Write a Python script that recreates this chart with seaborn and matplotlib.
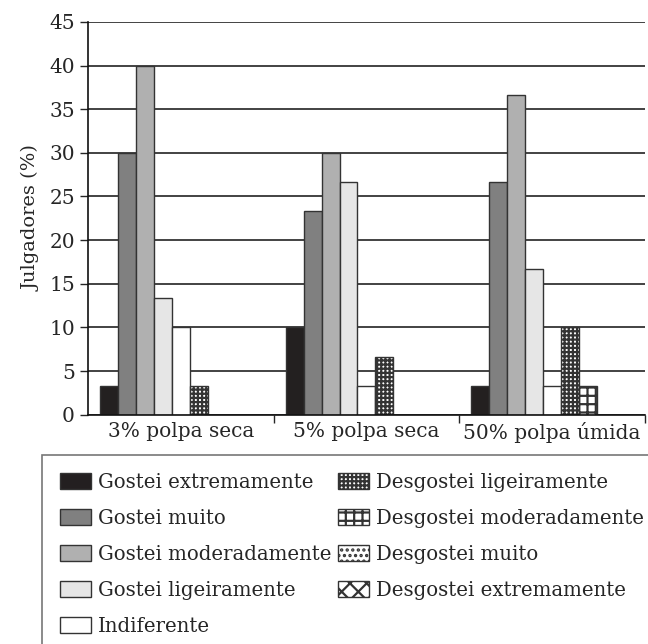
import numpy as np
import pandas as pd
import seaborn as sns
import matplotlib.pyplot as plt
from matplotlib.patches import Patch

grupos = ["3% polpa seca", "5% polpa seca", "50% polpa úmida"]
categorias = ["Gostei extremamente", "Gostei muito", "Gostei moderadamente",
              "Gostei ligeiramente", "Indiferente", "Desgostei ligeiramente",
              "Desgostei moderadamente", "Desgostei muito", "Desgostei extremamente"]

gostei_extremamente = [3.33, 10.0, 3.33]
gostei_muito = [30.0, 23.33, 26.67]
gostei_moderadamente = [40.0, 30.0, 36.67]
gostei_ligeiramente = [13.33, 26.67, 16.67]
indiferente = [10.0, 3.33, 3.33]
desgostei_ligeiramente = [3.33, 6.67, 10.0]
desgostei_moderadamente = [0.0, 0.0, 3.33]
desgostei_muito = [0.0, 0.0, 0.0]
desgostei_extremamente = [0.0, 0.0, 0.0]

valores = [gostei_extremamente, gostei_muito, gostei_moderadamente,
           gostei_ligeiramente, indiferente, desgostei_ligeiramente,
           desgostei_moderadamente, desgostei_muito, desgostei_extremamente]

cores = ["#231f20", "#808080", "#b0b0b0", "#e6e6e6", "#ffffff",
         "#ffffff", "#ffffff", "#ffffff", "#ffffff"]
hachuras = ["", "", "", "", "", "++++", "++", "...", "xx"]

rows = []
for cat, vals in zip(categorias, valores):
    for g, v in zip(grupos, vals):
        rows.append({"grupo": g, "categoria": cat, "valor": v})
df = pd.DataFrame(rows)

sns.set_style("white")
plt.rcParams["font.family"] = ["DejaVu Serif"]
plt.rcParams["hatch.linewidth"] = 1.6

fig = plt.figure(figsize=(6.48, 6.44), dpi=100)
ax = fig.add_axes([0.136, 0.356, 0.859, 0.610])

ax.yaxis.grid(True, color="#222222", linewidth=1.2, zorder=0)
ax.set_axisbelow(True)

sns.barplot(data=df, x="grupo", y="valor", hue="categoria", hue_order=categorias,
            palette=cores, width=0.87, edgecolor="#333333", linewidth=1.0,
            legend=False, ax=ax, zorder=2)

for cont, h in zip(ax.containers, hachuras):
    for p in cont:
        p.set_hatch(h)

ax.set_ylim(0, 45)
ax.set_xlim(-0.5, 2.5)
ax.set_yticks(np.arange(0, 46, 5))
ax.set_xlabel("")
ax.set_ylabel("Julgadores (%)", fontsize=14, labelpad=6)
ax.tick_params(axis="y", labelsize=14.5, length=6, width=1, direction="out", left=True)
ax.tick_params(axis="x", labelsize=14.5, length=0, pad=5)
ax.set_xticks([0.5, 1.5, 2.5], minor=True)
ax.tick_params(axis="x", which="minor", length=6, width=1, bottom=True)

for s in ["top", "right"]:
    ax.spines[s].set_visible(False)
for s in ["left", "bottom"]:
    ax.spines[s].set_color("#111111")
    ax.spines[s].set_linewidth(1.2)

handles = [Patch(facecolor=c, edgecolor="#333333", hatch=h, label=l)
           for c, h, l in zip(cores, hachuras, categorias)]
leg = fig.legend(handles=handles, ncol=2, loc="upper left",
                 bbox_to_anchor=(0.065, 0.2935), bbox_transform=fig.transFigure,
                 fontsize=14.2, frameon=True, fancybox=False, borderpad=0.9,
                 handlelength=1.6, handleheight=0.85, handletextpad=0.35,
                 columnspacing=0.3, labelspacing=0.86, borderaxespad=0)
leg.get_frame().set_edgecolor("#555555")
leg.get_frame().set_linewidth(1.2)

fig.savefig("out.png", dpi=100)
